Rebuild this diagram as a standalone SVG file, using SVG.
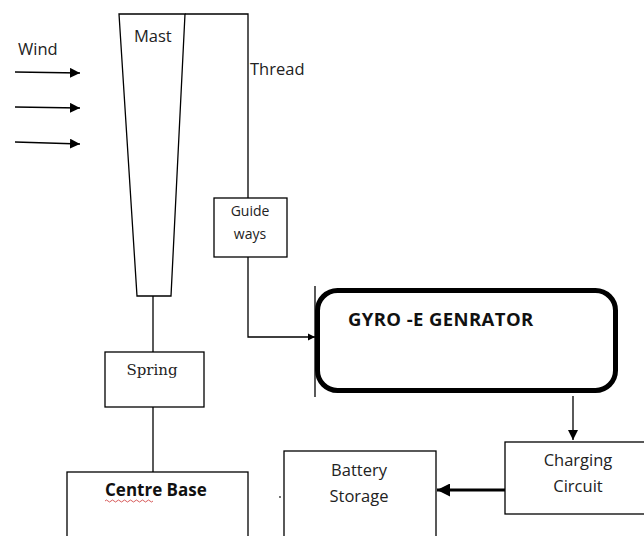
<svg xmlns="http://www.w3.org/2000/svg" width="644" height="536" viewBox="0 0 644 536">
<defs>
<style>
.ln{fill:none;stroke:#000;stroke-width:1.3}
.bx{fill:#fff;stroke:#000;stroke-width:1.3}
.t{font-family:"Open Sans","Liberation Sans",sans-serif;font-size:16.5px;fill:#222}
.s{font-family:"DejaVu Serif","Liberation Serif",serif;font-size:15px;fill:#222}
.b{font-family:"Open Sans","Liberation Sans",sans-serif;font-weight:bold;fill:#111}
</style>
<marker id="ah" viewBox="0 0 10 10" refX="10" refY="5" markerWidth="10" markerHeight="10" markerUnits="userSpaceOnUse" orient="auto"><path d="M0,0L10,5L0,10z" fill="#000"/></marker>
<marker id="ahs" viewBox="0 0 10 10" refX="10" refY="5" markerWidth="7" markerHeight="8" markerUnits="userSpaceOnUse" orient="auto"><path d="M0,0L10,5L0,10z" fill="#000"/></marker>
<marker id="ahb" viewBox="0 0 10 10" refX="10" refY="5" markerWidth="13" markerHeight="13" markerUnits="userSpaceOnUse" orient="auto"><path d="M0,0L10,5L0,10z" fill="#000"/></marker>
</defs>
<rect width="644" height="536" fill="#fff"/>

<g id="connectors">
<line class="ln" x1="15" y1="72" x2="80" y2="73" marker-end="url(#ah)"/>
<line class="ln" x1="15" y1="107" x2="80" y2="108" marker-end="url(#ah)"/>
<line class="ln" x1="15" y1="142" x2="80" y2="144" marker-end="url(#ah)"/>
<polyline class="ln" points="185,14 248,14 248,198"/>
<polyline class="ln" points="248,257 248,337 315,337" marker-end="url(#ahs)"/>
<line class="ln" x1="153" y1="295" x2="153" y2="352"/>
<line class="ln" x1="153" y1="407" x2="153" y2="472"/>
<line class="ln" x1="573" y1="396" x2="573" y2="440" marker-end="url(#ah)"/>
<line x1="505" y1="490" x2="437" y2="490" stroke="#000" stroke-width="3" marker-end="url(#ahb)"/>
</g>

<g id="wind"><text class="t" x="18" y="55">Wind</text></g>

<g id="mast">
<polygon class="bx" points="119,14 185,14 171,296 137,296"/>
<text class="t" x="134" y="42">Mast</text>
</g>

<g id="thread"><text class="t" x="250" y="75">Thread</text></g>

<g id="guide-ways">
<rect class="bx" x="214" y="198" width="73" height="59"/>
<text class="t" x="250" y="216" text-anchor="middle" style="font-size:14px">Guide</text>
<text class="t" x="250" y="239" text-anchor="middle" style="font-size:14px">ways</text>
</g>

<g id="generator">
<rect x="317.5" y="290.5" width="298" height="100" rx="20" ry="20" fill="#fff" stroke="#000" stroke-width="5"/>
<line class="ln" x1="315" y1="286" x2="315" y2="397"/>
<text class="b" x="348" y="326" style="font-size:18.5px;letter-spacing:0.4px">GYRO -E GENRATOR</text>
</g>

<g id="spring">
<rect class="bx" x="105" y="352" width="99" height="55"/>
<text class="s" x="152" y="375" text-anchor="middle">Spring</text>
</g>

<g id="centre-base">
<rect class="bx" x="67" y="472" width="181" height="70"/>
<text class="b" x="105" y="496" style="font-size:17px">Centre Base</text>
<path d="M105,501 q1.5,-2 3,0 t3,0 t3,0 t3,0 t3,0 t3,0 t3,0 t3,0 t3,0 t3,0 t3,0 t3,0 t3,0 t3,0 t3,0 t3,0" fill="none" stroke="#c33" stroke-width="0.8"/>
</g>

<circle cx="280" cy="497" r="0.9" fill="#333"/>

<g id="battery">
<rect class="bx" x="284" y="451" width="152" height="90"/>
<text class="t" x="359" y="476" text-anchor="middle">Battery</text>
<text class="t" x="359" y="502" text-anchor="middle">Storage</text>
</g>

<g id="charging">
<rect class="bx" x="505" y="442" width="140" height="72"/>
<text class="t" x="578" y="466" text-anchor="middle">Charging</text>
<text class="t" x="578" y="492" text-anchor="middle">Circuit</text>
</g>
</svg>
